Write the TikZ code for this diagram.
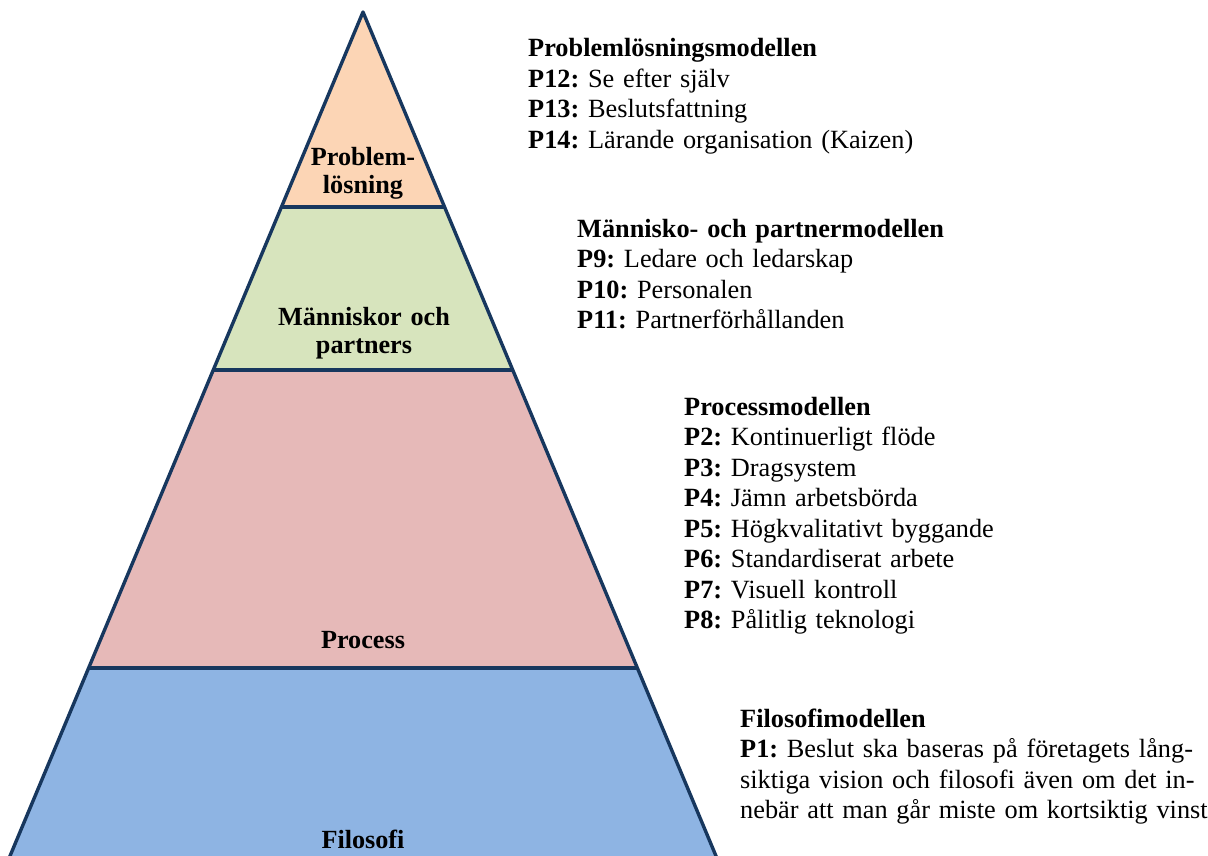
\documentclass[tikz,border=0pt]{standalone}
\usepackage{fontspec}
\setmainfont{Liberation Serif}
\usetikzlibrary{calc}
\definecolor{peach}{HTML}{FCD5B5}
\definecolor{leaf}{HTML}{D7E4BD}
\definecolor{rose}{HTML}{E6B9B8}
\definecolor{sky}{HTML}{8EB4E3}
\definecolor{navy}{HTML}{17375E}
\frenchspacing
\begin{document}
\begin{tikzpicture}[x=1pt,y=-1pt,
  edge/.style={draw=navy,line width=3.4pt,line join=round},
  levellabel/.style={font=\bfseries\fontsize{26.2}{28.5}\selectfont,text width=220pt,align=center,anchor=base,inner sep=0pt},
  infoblock/.style={font=\fontsize{26.3}{30.5}\selectfont,text width=600pt,align=left,anchor=base west,inner sep=0pt}]
\useasboundingbox (0,0) rectangle (1208,856);
\clip (0,0) rectangle (1208,856);
\coordinate (A) at (363,12);
\coordinate (BL) at (10,856);
\coordinate (BR) at (716,856);
\coordinate (L1) at ($(A)!0.23104!(BL)$);
\coordinate (R1) at ($(A)!0.23104!(BR)$);
\coordinate (L2) at ($(A)!0.42417!(BL)$);
\coordinate (R2) at ($(A)!0.42417!(BR)$);
\coordinate (L3) at ($(A)!0.77725!(BL)$);
\coordinate (R3) at ($(A)!0.77725!(BR)$);
\coordinate (L4) at ($(A)!1.01!(BL)$);
\coordinate (R4) at ($(A)!1.01!(BR)$);
% bands
\fill[peach] (A) -- (L1) -- (R1) -- cycle;
\fill[leaf] (L1) -- (L2) -- (R2) -- (R1) -- cycle;
\fill[rose] (L2) -- (L3) -- (R3) -- (R2) -- cycle;
\fill[sky] (L3) -- (L4) -- (R4) -- (R3) -- cycle;
% dividers and outline
\draw[edge] (L1) -- (R1);
\draw[edge] (L2) -- (R2);
\draw[edge] (L3) -- (R3);
\draw[edge] (L4) -- (A) -- (R4);
% level labels
\node[levellabel] (lproblem) at (363,165) {Problem-\\lösning};
\node[levellabel] (lpeople) at (364,325) {Människor och\\partners};
\node[levellabel] (lprocess) at (363,648) {Process};
\node[levellabel] (lphilo) at (363,848) {Filosofi};
% info blocks
\node[infoblock] (iproblem) at (528,57) {\textbf{Problemlösningsmodellen}\\
\textbf{P12:} Se efter själv\\
\textbf{P13:} Beslutsfattning\\
\textbf{P14:} Lärande organisation (Kaizen)};
\node[infoblock] (ipeople) at (577,237) {\textbf{Människo- och partnermodellen}\\
\textbf{P9:} Ledare och ledarskap\\
\textbf{P10:} Personalen\\
\textbf{P11:} Partnerförhållanden};
\node[infoblock] (iprocess) at (684,415) {\textbf{Processmodellen}\\
\textbf{P2:} Kontinuerligt flöde\\
\textbf{P3:} Dragsystem\\
\textbf{P4:} Jämn arbetsbörda\\
\textbf{P5:} Högkvalitativt byggande\\
\textbf{P6:} Standardiserat arbete\\
\textbf{P7:} Visuell kontroll\\
\textbf{P8:} Pålitlig teknologi};
\node[infoblock] (iphilo) at (740,727) {\textbf{Filosofimodellen}\\
\textbf{P1:} Beslut ska baseras på företagets lång-\\
siktiga vision och filosofi även om det in-\\
nebär att man går miste om kortsiktig vinst};
\end{tikzpicture}
\end{document}
